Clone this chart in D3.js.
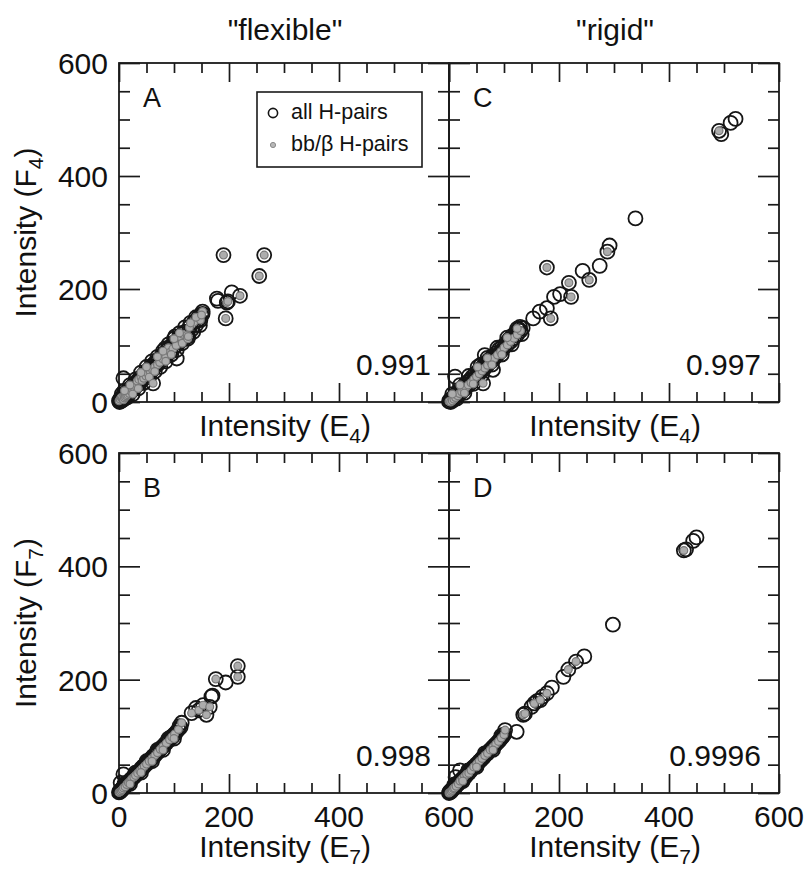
<!DOCTYPE html>
<html><head><meta charset="utf-8">
<script src="https://cdn.jsdelivr.net/npm/d3@7"></script>
<style>
body{margin:0;background:#fff}
text{font-family:"Liberation Sans",Arial,Helvetica,sans-serif;fill:#111}
</style></head>
<body><svg id="c" width="806" height="869"></svg>
<script>
// ---------------- data ----------------
const columnTitles = ['"flexible"', '"rigid"'];
const panelLetters = ["A", "C", "B", "D"];
const correlations = ["0.991", "0.997", "0.998", "0.9996"];
const legendLabels = ["all H-pairs", "bb/\u03B2 H-pairs"];
const majorTicks = [0, 200, 400, 600];
const minorTicks = [50, 100, 150, 250, 300, 350, 450, 500, 550];
const tickLabelsB = [0, 200, 400, 600];
const tickLabelsD = [200, 400, 600];
const tickLabelsY = [0, 200, 400, 600];

// Panel A: flexible, E4 vs F4
const allA = [[0,2],[1,0],[2,5],[3,1],[4,8],[5,3],[6,6],[7,10],[8,4],[9,12],[10,7],[11,14],[12,9],[13,16],[14,11],[15,18],[16,13],[18,20],[19,15],[20,24],[22,19],[23,27],[25,22],[26,30],[28,25],[30,33],[31,28],[33,37],[35,31],[36,40],[38,35],[40,44],[42,38],[44,48],[45,42],[47,51],[49,46],[51,55],[53,50],[55,59],[57,53],[59,63],[61,57],[63,67],[65,62],[67,71],[70,66],[72,76],[74,70],[77,80],[80,76],[82,86],[85,80],[88,92],[90,96],[93,88],[96,100],[98,94],[101,106],[104,100],[107,111],[110,116],[113,108],[116,120],[120,124],[124,118],[128,132],[132,128],[136,141],[140,136],[144,150],[148,145],[152,156],
  [5,14],[10,20],[15,8],[20,30],[25,14],[30,40],[35,24],[40,52],[45,34],[50,62],[55,44],[60,72],[65,54],[70,80],[75,62],[80,90],[85,72],[90,102],[95,84],[100,112],[105,92],[110,122],[115,104],[120,132],[125,112],[130,140],[135,124],[140,150],[147,136],[152,160],
  [8,42],[62,33],[105,77],[84,95],[102,116],[126,116],[145,146],[150,154],[178,183],[180,179],[190,260],[194,148],[196,176],[198,178],[205,194],[220,188],[255,223],[264,260]];
const bbA = [[0,2],[2,5],[4,8],[6,6],[8,4],[10,7],[12,9],[14,11],[16,13],[19,15],[22,19],[25,22],[28,25],[31,28],[33,37],[36,40],[40,44],[42,38],[45,42],[49,46],[53,50],[57,53],[61,57],[65,62],[70,66],[74,70],[80,76],[85,80],[90,96],[93,88],[98,94],[104,100],[110,116],[116,120],[124,118],[128,132],[136,141],[144,150],[148,145],
  [10,20],[20,30],[25,14],[35,24],[40,52],[50,62],[55,44],[65,54],[70,80],[80,90],[85,72],[95,84],[100,112],[110,122],[115,104],[125,112],[130,140],[140,150],[152,160],
  [62,33],[126,116],[150,154],[190,260],[194,148],[196,176],[198,178],[220,188],[255,223],[264,260]];

// Panel C: rigid, E4 vs F4
const allC = [[0,1],[2,4],[3,0],[5,6],[6,2],[8,9],[9,5],[11,12],[12,8],[14,15],[16,11],[17,19],[19,15],[21,23],[23,18],[25,27],[27,22],[29,31],[31,26],[33,35],[35,30],[38,39],[40,34],[42,44],[45,40],[47,49],[50,45],[52,54],[55,50],[57,59],[60,55],[63,64],[65,60],[68,70],[70,65],[73,75],[76,71],[79,81],[82,77],[85,86],[88,83],[91,93],[94,89],[97,98],[100,96],[103,104],[106,101],[109,111],[112,107],[115,117],[118,113],[121,123],[124,119],[127,129],[130,126],[134,131],
  [6,14],[14,6],[20,30],[28,16],[36,46],[44,32],[52,62],[60,48],[70,78],[78,66],[88,96],[96,84],[106,114],[114,102],[124,130],[132,120],
  [11,45],[62,33],[80,57],[58,66],[65,83],[129,133],[153,148],[165,160],[178,166],[185,148],[191,186],[202,191],[218,211],[222,186],[178,238],[243,232],[255,216],[274,241],[288,266],[292,277],[339,325],[491,480],[495,474],[512,494],[521,501]];
const bbC = [[0,1],[3,0],[6,2],[9,5],[12,8],[16,11],[19,15],[23,18],[27,22],[31,26],[35,30],[40,34],[45,40],[50,45],[55,50],[60,55],[65,60],[70,65],[76,71],[82,77],[88,83],[94,89],[100,96],[106,101],[112,107],[118,113],[124,119],[130,126],
  [6,14],[20,30],[28,16],[44,32],[52,62],[70,78],[78,66],[96,84],[106,114],[124,130],
  [62,33],[178,238],[185,148],[218,211],[222,186],[255,216],[288,266],[491,480]];

// Panel B: flexible, E7 vs F7
const allB = [[0,1],[1,3],[2,2],[3,5],[4,4],[5,7],[6,6],[7,9],[8,9],[10,12],[11,11],[12,14],[14,15],[15,17],[17,18],[18,21],[20,21],[22,24],[23,25],[25,27],[27,28],[28,31],[30,31],[32,34],[34,35],[36,38],[38,39],[40,43],[42,43],[44,47],[46,47],[48,51],[50,51],[52,55],[55,56],[57,60],[60,61],[62,65],[65,66],[67,70],[70,71],[72,75],[75,77],[77,80],[80,82],[83,86],[86,88],[89,92],[92,94],[95,99],[96,99],[98,100],[101,104],[104,107],[108,112],[112,116],[114,124],
  [10,16],[20,16],[30,36],[40,36],[50,56],[60,56],[70,76],[80,76],[90,96],[100,96],[110,118],
  [3,18],[8,33],[132,141],[140,150],[145,146],[153,155],[159,138],[165,152],[168,170],[170,172],[176,201],[194,195],[216,205],[216,224]];
const bbB = [[0,1],[2,2],[4,4],[6,6],[8,9],[11,11],[14,15],[17,18],[20,21],[23,25],[27,28],[30,31],[34,35],[38,39],[42,43],[46,47],[50,51],[55,56],[60,61],[65,66],[70,71],[75,77],[80,82],[86,88],[92,94],[96,99],[101,104],[108,112],
  [20,16],[40,36],[60,56],[80,76],[100,96],
  [114,124],[132,141],[145,146],[153,155],[159,138],[165,152],[176,201],[216,205],[216,224]];

// Panel D: rigid, E7 vs F7
const allD = [[0,0],[1,2],[2,1],[3,4],[4,3],[5,6],[6,5],[8,8],[9,10],[10,9],[12,13],[13,12],[15,16],[17,16],[18,19],[20,21],[22,21],[24,25],[26,26],[28,29],[30,29],[32,33],[34,35],[36,35],[38,40],[40,40],[43,44],[45,46],[48,48],[50,51],[53,53],[55,56],[58,58],[60,61],[63,63],[65,66],[68,69],[70,70],[73,74],[75,76],[78,79],[80,81],[83,84],[85,86],[88,89],[90,91],[93,94],[95,97],[98,100],[100,103],
  [10,15],[25,21],[35,40],[50,46],[65,70],[80,76],[95,101],
  [102,111],[123,108],[20,40],[12,28],[135,138],[138,140],[150,152],[155,158],[160,162],[166,164],[170,170],[178,176],[187,186],[208,205],[217,218],[231,232],[246,241],[298,297],[427,428],[431,430],[444,445],[450,451]];
const bbD = [[0,0],[2,1],[4,3],[6,5],[8,8],[10,9],[13,12],[17,16],[20,21],[24,25],[28,29],[32,33],[36,35],[40,40],[45,46],[50,51],[55,56],[60,61],[65,66],[70,70],[75,76],[80,81],[85,86],[90,91],[95,97],[100,103],
  [25,21],[50,46],[80,76],
  [102,111],[135,138],[138,140],[155,158],[166,164],[178,176],[217,218],[231,232],[427,428]];

// ---------------- layout ----------------
const svg = d3.select("#c");
const PW = 330;
const layout = {
  A: {x0: 119, y0: 63, h: 339},
  C: {x0: 449, y0: 63, h: 339},
  B: {x0: 119, y0: 453, h: 340},
  D: {x0: 449, y0: 453, h: 340}
};
const panels = [
  {key: "A", all: allA, bb: bbA, corr: correlations[0], letter: panelLetters[0], yLabels: true, xLabels: null},
  {key: "C", all: allC, bb: bbC, corr: correlations[1], letter: panelLetters[1], yLabels: false, xLabels: null},
  {key: "B", all: allB, bb: bbB, corr: correlations[2], letter: panelLetters[2], yLabels: true, xLabels: tickLabelsB},
  {key: "D", all: allD, bb: bbD, corr: correlations[3], letter: panelLetters[3], yLabels: false, xLabels: tickLabelsD}
];

function drawPanel(p) {
  const L = layout[p.key];
  const x = d3.scaleLinear().domain([0, 600]).range([L.x0, L.x0 + PW]);
  const y = d3.scaleLinear().domain([0, 600]).range([L.y0 + L.h, L.y0]);
  const g = svg.append("g");

  const specs = [
    [d3.axisBottom(x), `translate(0,${y(0)})`, 19, 10],
    [d3.axisTop(x), `translate(0,${y(600)})`, 19, 10],
    [d3.axisLeft(y), `translate(${x(0)},0)`, 21, 11],
    [d3.axisRight(y), `translate(${x(600)},0)`, 21, 11]
  ];
  specs.forEach(([ax, tr, big, small]) => {
    const a1 = g.append("g").attr("transform", tr)
      .call(ax.tickValues(majorTicks).tickSize(-big).tickFormat(""));
    a1.select(".domain").remove();
    const a2 = g.append("g").attr("transform", tr)
      .call(ax.tickValues(minorTicks).tickSize(-small).tickFormat(""));
    a2.select(".domain").remove();
  });
  g.selectAll(".tick line").attr("stroke", "#1a1a1a").attr("stroke-width", 1.7);

  g.append("rect").attr("x", x(0)).attr("y", y(600))
    .attr("width", x(600) - x(0)).attr("height", y(0) - y(600))
    .attr("fill", "none").attr("stroke", "#1a1a1a").attr("stroke-width", 1.8);

  g.append("g").selectAll("circle").data(p.all).join("circle")
    .attr("cx", d => x(d[0])).attr("cy", d => y(d[1])).attr("r", 7)
    .attr("fill", "none").attr("stroke", "#151515").attr("stroke-width", 1.8);
  g.append("g").selectAll("circle").data(p.bb).join("circle")
    .attr("cx", d => x(d[0])).attr("cy", d => y(d[1])).attr("r", 3.9)
    .attr("fill", "#adadad").attr("stroke", "#777").attr("stroke-width", 1.2);

  g.append("text").attr("x", x(0) + 24).attr("y", y(600) + 44)
    .attr("font-size", 27).text(p.letter);
  g.append("text").attr("x", x(600) - 18).attr("y", y(0) - 27)
    .attr("text-anchor", "end").attr("font-size", 30).text(p.corr);

  if (p.yLabels) {
    g.append("g").selectAll("text").data(tickLabelsY).join("text")
      .attr("x", x(0) - 11).attr("y", d => y(d)).attr("dy", "0.37em")
      .attr("text-anchor", "end").attr("font-size", 30).text(d => d);
  }
  if (p.xLabels) {
    g.append("g").selectAll("text").data(p.xLabels).join("text")
      .attr("x", d => x(d)).attr("y", y(0) + 34)
      .attr("text-anchor", "middle").attr("font-size", 30).text(d => d);
  }
}
panels.forEach(drawPanel);

function subLabel(sel, main, sub) {
  sel.append("tspan").text(main);
  sel.append("tspan").attr("dy", 7).attr("font-size", 21).text(sub);
  sel.append("tspan").attr("dy", -7).text(")");
}
const xLabelPos = [[285, 436, "4"], [615, 436, "4"], [285, 857, "7"], [615, 857, "7"]];
xLabelPos.forEach(([cx, by, s]) => {
  const t = svg.append("text").attr("x", cx).attr("y", by)
    .attr("text-anchor", "middle").attr("font-size", 30);
  subLabel(t, "Intensity (E", s);
});
const yLabelPos = [[36, 232.5, "4"], [36, 623, "7"]];
yLabelPos.forEach(([bx, cy, s]) => {
  const t = svg.append("text").attr("transform", `translate(${bx},${cy}) rotate(-90)`)
    .attr("text-anchor", "middle").attr("font-size", 30);
  subLabel(t, "Intensity (F", s);
});

svg.selectAll(".ctitle").data(columnTitles).join("text").attr("class", "ctitle")
  .attr("x", (d, i) => i === 0 ? 285 : 615).attr("y", 40)
  .attr("text-anchor", "middle").attr("font-size", 30).text(d => d);

const lg = svg.append("g");
lg.append("rect").attr("x", 257).attr("y", 92).attr("width", 165).attr("height", 75)
  .attr("fill", "#fff").attr("stroke", "#1a1a1a").attr("stroke-width", 1.6);
lg.append("circle").attr("cx", 273).attr("cy", 113).attr("r", 4.6)
  .attr("fill", "none").attr("stroke", "#151515").attr("stroke-width", 1.6);
lg.append("circle").attr("cx", 273).attr("cy", 145).attr("r", 2.6)
  .attr("fill", "#b8b8b8").attr("stroke", "#8a8a8a").attr("stroke-width", 1);
lg.selectAll("text").data(legendLabels).join("text")
  .attr("x", 291).attr("y", (d, i) => i === 0 ? 119 : 151)
  .attr("font-size", 21.5).text(d => d);
</script>
</body></html>
